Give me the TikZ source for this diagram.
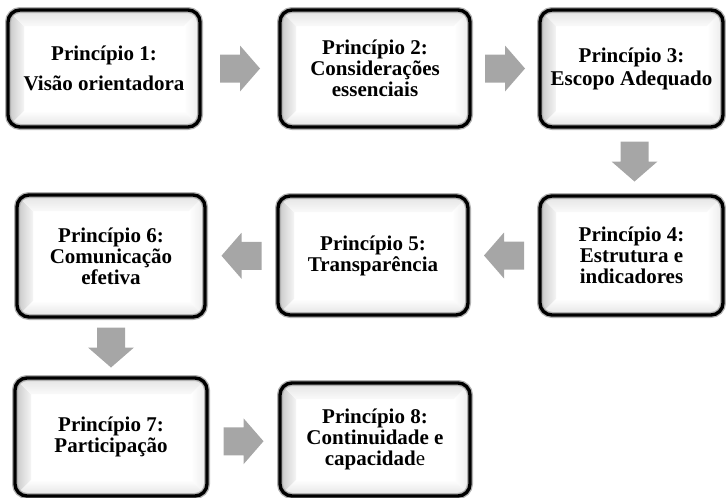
\documentclass[tikz,border=0pt]{standalone}
\usepackage{fontspec}
\setmainfont{Liberation Serif}
\usetikzlibrary{calc}
\definecolor{arrowgray}{RGB}{166,166,166}
\tikzset{
  boxtext/.style={align=center, font=\fontsize{21}{21}\selectfont\bfseries, inner sep=0pt},
  blockarrow/.style={fill=arrowgray, draw=none},
  frameline/.style={line width=3.4pt, rounded corners=12pt, draw=black},
  frameshadow/.style={line width=6pt, rounded corners=12pt, draw=black!30},
}
\newcommand\bevbox[6]{%
  \begin{scope}
    \clip[rounded corners=12pt] (#2,#3) rectangle (#4,#5);
    \fill[white] (#2,#3) rectangle (#4,#5);
    \shade[left color=black!22, right color=black!4] (#2,#3) -- ({#2+16},{#3+16}) -- ({#2+16},{#5-16}) -- (#2,#5) -- cycle;
    \shade[top color=black!11, bottom color=black!2] (#2,#3) -- (#4,#3) -- ({#4-16},{#3+16}) -- ({#2+16},{#3+16}) -- cycle;
    \shade[right color=black!8, left color=white] (#4,#3) -- (#4,#5) -- ({#4-16},{#5-16}) -- ({#4-16},{#3+16}) -- cycle;
    \shade[bottom color=black!11, top color=white] (#2,#5) -- (#4,#5) -- ({#4-16},{#5-16}) -- ({#2+16},{#5-16}) -- cycle;
  \end{scope}
  \draw[frameshadow] (#2,#3) rectangle (#4,#5);
  \draw[frameline] (#2,#3) rectangle (#4,#5);
  \node[boxtext, minimum width={#4-#2}, minimum height={#5-#3}] (#1) at ({(#2+#4)/2},{(#3+#5)/2}) {#6};
}
% #1 coordinate name, #2 rotation (0 right, 180 left, -90 down)
\newcommand\blockarrowat[2]{%
  \fill[blockarrow, shift={(#1)}, rotate=#2]
    (-20,-14) -- (0,-14) -- (0,-23) -- (20,0) -- (0,23) -- (0,14) -- (-20,14) -- cycle;
}
\begin{document}
\begin{tikzpicture}[x=1pt,y=-1pt]
\useasboundingbox (0,0) rectangle (726,498);
\bevbox{b1}{8}{10}{200}{127}{Princípio 1:\\[9pt]Visão orientadora}
\bevbox{b2}{280}{10}{470}{127}{Princípio 2:\\Considerações\\essenciais}
\bevbox{b3}{540}{10}{723}{127}{Princípio 3:\\[2pt]Escopo Adequado}
\bevbox{b4}{540}{196}{723}{315}{Princípio 4:\\Estrutura e\\indicadores}
\bevbox{b5}{278}{196}{468}{315}{Princípio 5:\\Transparência}
\bevbox{b6}{17}{195}{205}{317}{Princípio 6:\\Comunicação\\efetiva}
\bevbox{b7}{15}{378}{207}{496}{Princípio 7:\\Participação}
\bevbox{b8}{280}{383}{470}{496}{Princípio 8:\\Continuidade e\\capacidad{\mdseries e}}
\coordinate (a12) at ($(b1.east)!0.5!(b2.west)$);
\coordinate (a23) at ($(b2.east)!0.5!(b3.west)$);
\coordinate (a34) at ($(b3.south)!0.5!(b4.north)+(3,0)$);
\coordinate (a45) at ($(b4.west)!0.5!(b5.east)$);
\coordinate (a56) at ($(b5.west)!0.5!(b6.east)$);
\coordinate (a67) at ($(b6.south)!0.5!(b7.north)$);
\coordinate (a78) at ($(b7.east)!0.5!(b8.west)+(0,3)$);
\blockarrowat{a12}{0}
\blockarrowat{a23}{0}
\blockarrowat{a34}{-90}
\blockarrowat{a45}{180}
\blockarrowat{a56}{180}
\blockarrowat{a67}{-90}
\blockarrowat{a78}{0}
\end{tikzpicture}
\end{document}
